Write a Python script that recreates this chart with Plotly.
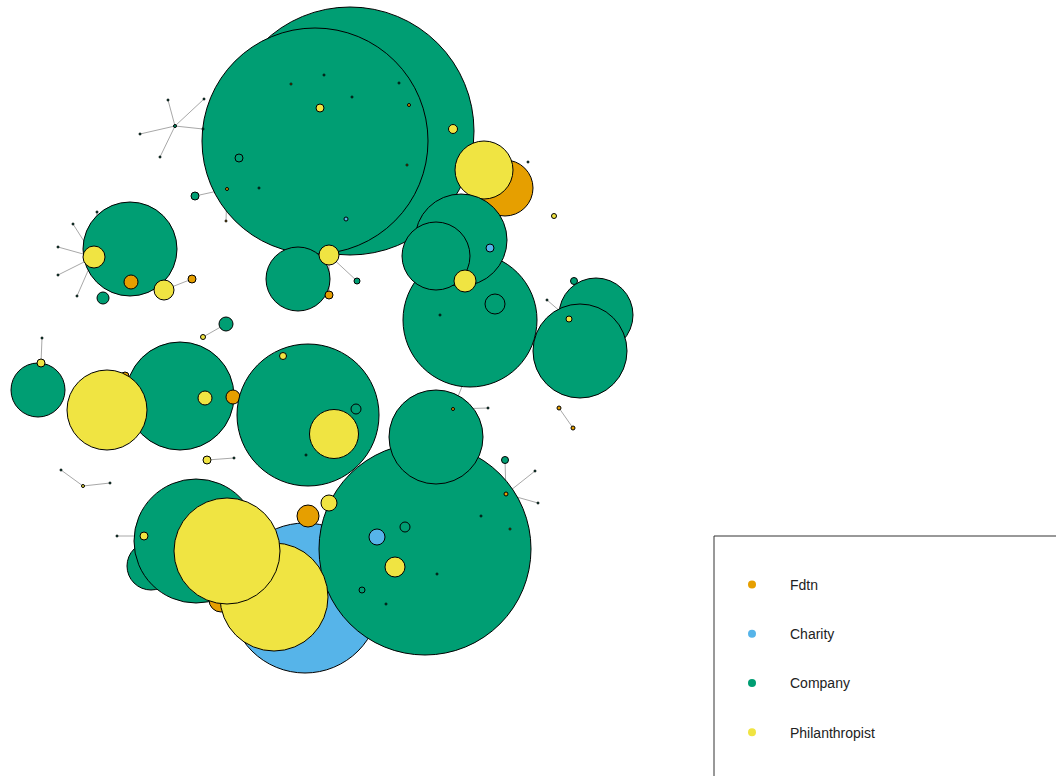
import plotly.graph_objects as go

# ---- node data (pixel-like coordinates, y grows downward), in draw order ----
node_x = [350, 315, 320, 453, 239, 346, 409, 291, 352, 259, 227, 407, 399, 324,
          505, 484, 528, 554,
          470, 461, 436, 490, 465, 495, 440,
          596, 580, 569, 574,
          130, 94, 131, 164, 192, 103,
          298, 329, 329, 357,
          195, 226, 203,
          38, 41,
          125, 180, 107, 205, 233,
          308, 334, 356, 283, 306,
          305, 425, 436, 453, 377, 405, 395, 362, 481, 510, 437, 386, 505, 506,
          151, 196, 221, 274, 227, 144,
          308, 329, 207,
          175, 168, 140, 160, 204, 203, 226,
          73, 58, 58, 77, 97, 42, 234,
          61, 83, 110, 559, 573, 488, 535, 538, 547, 117]
node_y = [131, 141, 108, 129, 158, 219, 105, 84, 97, 188, 189, 165, 83, 75,
          188, 170, 162, 216,
          320, 240, 256, 248, 281, 304, 315,
          315, 351, 319, 281,
          249, 257, 282, 290, 279, 298,
          279, 255, 295, 281,
          196, 324, 337,
          390, 363,
          376, 396, 410, 398, 397,
          415, 434, 409, 356, 455,
          598, 549, 437, 409, 537, 527, 567, 590, 516, 529, 574, 604, 460, 494,
          566, 541, 600, 597, 551, 536,
          516, 503, 460,
          126, 100, 134, 157, 99, 129, 221,
          224, 247, 275, 296, 212, 338, 458,
          470, 486, 483, 408, 428, 408, 471, 503, 300, 536]
node_d = [248, 226, 8, 9, 8, 4, 3, 2, 2, 2, 3, 2, 2, 2,
          56, 58, 2, 5,
          134, 92, 68, 8, 22, 20, 2,
          74, 94, 6, 7,
          94, 22, 14, 20, 8, 12,
          64, 20, 8, 6,
          8, 14, 5,
          54, 8,
          8, 108, 80, 14, 14,
          142, 49, 10, 7, 2,
          150, 212, 94, 3, 16, 10, 20, 6, 2, 2, 2, 2, 7, 4,
          48, 124, 24, 108, 106, 8,
          22, 16, 8,
          3, 2, 2, 2, 2, 2, 2,
          2, 2, 2, 2, 2, 2, 2,
          2, 3, 2, 4, 4, 2, 2, 2, 2, 2]
node_type = ["Company", "Company", "Philanthropist", "Philanthropist", "Company", "Charity",
             "Fdtn", "Fdtn", "Company", "Company", "Fdtn", "Fdtn", "Company", "Company",
             "Fdtn", "Philanthropist", "Company", "Philanthropist",
             "Company", "Company", "Company", "Charity", "Philanthropist", "Company", "Company",
             "Company", "Company", "Philanthropist", "Company",
             "Company", "Philanthropist", "Fdtn", "Philanthropist", "Fdtn", "Company",
             "Company", "Philanthropist", "Fdtn", "Company",
             "Company", "Company", "Philanthropist",
             "Company", "Philanthropist",
             "Fdtn", "Company", "Philanthropist", "Philanthropist", "Fdtn",
             "Company", "Philanthropist", "Company", "Philanthropist", "Company",
             "Charity", "Company", "Company", "Fdtn", "Charity", "Company", "Philanthropist",
             "Company", "Company", "Fdtn", "Company", "Company", "Company", "Fdtn",
             "Company", "Company", "Fdtn", "Philanthropist", "Philanthropist", "Philanthropist",
             "Fdtn", "Philanthropist", "Philanthropist",
             "Company", "Company", "Company", "Company", "Company", "Company", "Fdtn",
             "Company", "Company", "Company", "Company", "Company", "Company", "Company",
             "Company", "Philanthropist", "Company", "Fdtn", "Fdtn", "Company", "Company",
             "Company", "Company", "Company"]

# ---- edges as pairs of node indices ----
edge_src = [77, 77, 77, 77, 77, 39, 10, 30, 30, 30, 30, 30, 32, 40, 43, 76,
            91, 92, 94, 57, 23, 66, 67, 67, 99, 73, 36, 36]
edge_dst = [78, 79, 80, 81, 82, 10, 83, 84, 85, 86, 87, 88, 33, 41, 89, 90,
            92, 93, 95, 96, 57, 67, 97, 98, 27, 100, 38, 37]

categories = ["Fdtn", "Charity", "Company", "Philanthropist"]
cat_colors = ["#E69F00", "#56B4E9", "#009E73", "#F0E442"]

color_of = dict(zip(categories, cat_colors))

ex, ey = [], []
for s, t in zip(edge_src, edge_dst):
    ex += [node_x[s], node_x[t], None]
    ey += [node_y[s], node_y[t], None]

fig = go.Figure()
fig.add_trace(go.Scatter(x=ex, y=ey, mode="lines",
                         line=dict(color="#a8a8a8", width=1),
                         hoverinfo="skip", showlegend=False))
fig.add_trace(go.Scatter(
    x=node_x, y=node_y, mode="markers", showlegend=False,
    text=node_type, hoverinfo="text",
    marker=dict(size=node_d, sizemode="diameter",
                color=[color_of[t] for t in node_type],
                opacity=1,
                line=dict(color="black", width=1))))

for i, (c, col) in enumerate(zip(categories, cat_colors)):
    fig.add_trace(go.Scatter(x=[None], y=[None], mode="markers", name=c,
                             legendgroup=c,
                             marker=dict(size=8, color=col, line=dict(width=0))))

fig.add_shape(type="rect", xref="x", yref="y", x0=714, y0=536, x1=1070, y1=790,
              line=dict(color="#333", width=1), fillcolor="rgba(0,0,0,0)")

fig.update_layout(
    width=1056, height=776,
    margin=dict(l=0, r=0, t=0, b=0),
    paper_bgcolor="white", plot_bgcolor="white",
    xaxis=dict(range=[0, 1056], visible=False, fixedrange=True),
    yaxis=dict(range=[776, 0], visible=False, fixedrange=True),
    font=dict(family="Liberation Sans, Arial, sans-serif", size=14, color="#222"),
    legend=dict(x=714 / 1056, y=1 - 569 / 776, xanchor="left", yanchor="top",
                itemwidth=66, tracegroupgap=28, borderwidth=0,
                bgcolor="rgba(0,0,0,0)",
                font=dict(size=14)),
    showlegend=True,
)

fig.write_html("out.html", config={"displayModeBar": False},
               post_script="document.body.style.margin='0';document.body.style.overflow='hidden';")
